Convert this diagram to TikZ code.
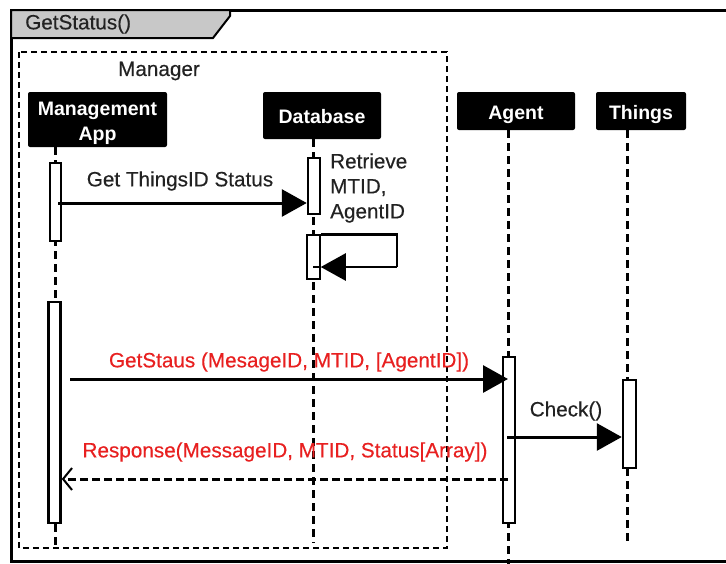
\documentclass[tikz,border=0pt]{standalone}
\usepackage{fontspec}
\setmainfont{Liberation Sans}
\newfontfamily\lblfont[FakeBold=0.3]{Liberation Sans}
\usetikzlibrary{arrows.meta,calc}

\definecolor{tabgray}{RGB}{200,200,200}
\definecolor{msgred}{RGB}{232,32,32}
\definecolor{ink}{RGB}{34,34,34}

% header text, set a little below the middle of its box
\newcommand{\headtext}[1]{\raisebox{-3pt}[\height][\depth]{\begin{tabular}{@{}c@{}}#1\end{tabular}}}

\tikzset{
  head/.style={fill=black, rounded corners=2pt, text=white, align=center,
    inner sep=0pt, font=\bfseries\fontsize{19.5}{26}\selectfont},
  act/.style={draw=black, fill=white, line width=2.5pt, inner sep=0pt},
  life/.style={line width=3pt, dash pattern=on 8pt off 5pt},
  msg/.style={line width=3pt, -{Triangle[length=25pt,width=27pt]}},
  reply/.style={line width=3pt, dash pattern=on 8pt off 4pt,
    -{Straight Barb[length=9pt,width=22pt,line width=2pt]}},
  lbl/.style={font=\lblfont\fontsize{20.7}{25}\selectfont, text=ink, inner sep=0pt},
  redlbl/.style={lbl, text=msgred},
}

\begin{document}
\begin{tikzpicture}[x=1pt,y=-1pt]
\useasboundingbox (0,0) rectangle (726,563);
\clip (0,0) rectangle (726,563);
\fill[white] (0,0) rectangle (726,563);

% outer frame and its title tab
\draw[line width=3pt] (11,10) rectangle (745,561);
\draw[line width=2pt, fill=tabgray] (11,10) -- (230,10) -- (230,16) -- (213,38) -- (11,38) -- cycle;
\node[lbl, anchor=west] (title) at (25,24) {GetStatus()};

% Manager group
\draw[line width=1.6pt, dash pattern=on 6pt off 4pt] (19,52) rectangle (447,548);
\node[lbl] (mgr) at (159,71) {Manager};

% participants
\node[head, minimum width=139pt, minimum height=55pt] (ma) at (97.5,119.5)
  {\headtext{Management\\[-1pt]App}};
\node[head, minimum width=118pt, minimum height=47pt] (db) at (322,115.5) {\headtext{Database}};
\node[head, minimum width=118pt, minimum height=38pt] (ag) at (516,111) {\headtext{Agent}};
\node[head, minimum width=90pt, minimum height=38pt] (th) at (641,111) {\headtext{Things}};

% lifelines
\coordinate (maEnd) at (55,548);
\coordinate (dbEnd) at (313,543);
\coordinate (agEnd) at (508,570);
\coordinate (thEnd) at (627,543);
\draw[life] (maEnd |- ma.south) -- (maEnd);
\draw[life] (dbEnd |- db.south) -- (dbEnd);
\draw[life] (agEnd |- ag.south) -- (agEnd);
\draw[life] (thEnd |- th.south) -- (thEnd);

% activation bars
\node[act, minimum width=11pt, minimum height=78pt] (ma1) at (55.5,202) {};
\node[act, minimum width=12pt, minimum height=221pt] (ma2) at (54.5,412.5) {};
\node[act, minimum width=12pt, minimum height=56pt] (db1) at (314,186) {};
\node[act, line width=1.5pt, minimum width=13pt, minimum height=44pt] (db2) at (313.5,257) {};
\node[act, minimum width=12pt, minimum height=166pt] (ag1) at (509,440) {};
\node[act, minimum width=13pt, minimum height=88pt] (th1) at (629.5,424) {};

% Get ThingsID Status
\coordinate (m1) at (58,203);
\draw[msg] (m1) -- (m1 -| db1.west);
\node[lbl] (l1) at (180,181) {Get ThingsID Status};

% self call on the database
\coordinate (m2) at (397,267);
\draw[line width=2.5pt] (db2.north east) -| (m2);
\draw[line width=2.5pt] (m2 -| db2.east) -- (m2 -| dbEnd);
\draw[msg, line width=2.5pt] (m2) -- (m2 -| db2.east);
\node[lbl, anchor=west, align=left] (l2) at (330,188)
  {Retrieve\\MTID,\\AgentID};

% GetStaus request to the agent
\coordinate (m3) at (70,379);
\draw[msg] (m3) -- (m3 -| agEnd);
\node[redlbl] (l3) at (289,362) {GetStaus (MesageID, MTID, [AgentID])};

% Check() towards the things
\coordinate (m4) at (507,437);
\draw[msg] (m4) -- (m4 -| th1.west);
\node[lbl] (l4) at (566,411) {Check()};

% response back to the management app
\coordinate (m5) at (508,479);
\draw[reply] (m5) -- (m5 -| ma2.east);
\node[redlbl] (l5) at (285,452) {Response(MessageID, MTID, Status[Array])};
\end{tikzpicture}
\end{document}
